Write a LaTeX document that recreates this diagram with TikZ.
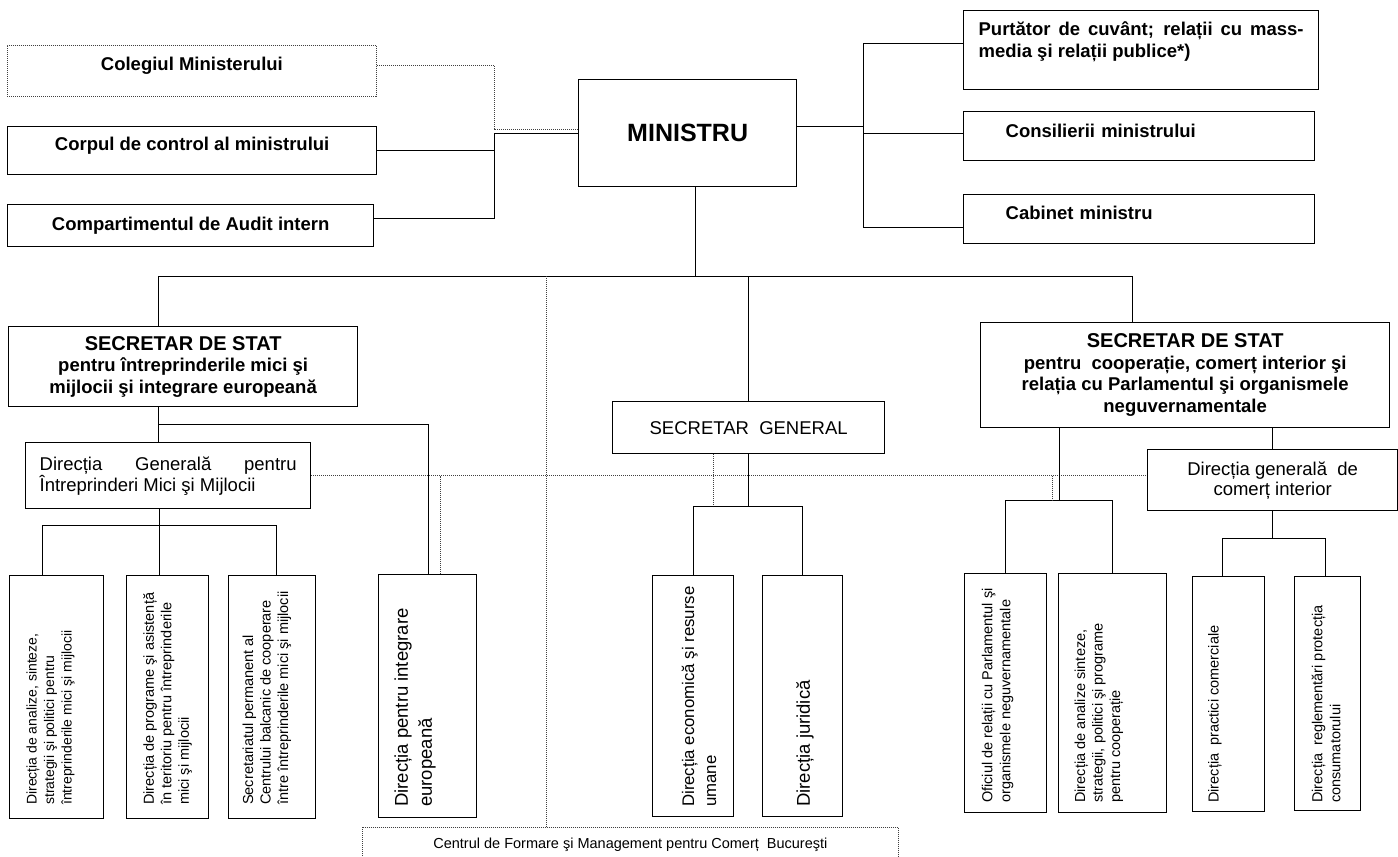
\documentclass[tikz,border=0pt]{standalone}
\usepackage{fontspec}
\setmainfont{Liberation Sans}
\newcommand{\fsz}[2]{\fontsize{#1}{#2}\selectfont}

\begin{document}
\begin{tikzpicture}[x=1pt,y=-1pt,
    box/.style={draw,line width=1.3pt,inner sep=0pt,anchor=north west},
    dotbox/.style={draw=black!75,line width=0.8pt,dash pattern=on 1pt off 1pt,inner sep=0pt,anchor=north west},
    link/.style={line width=1pt},
    dlink/.style={draw=black!75,line width=0.8pt,dash pattern=on 1pt off 1pt},
    vtext/.style={rotate=90,anchor=west,align=left,inner sep=0pt}]
    \useasboundingbox (0,0) rectangle (1398,857);

    \node[dotbox,minimum width=369pt,minimum height=51pt,text depth=15pt,font=\fsz{18.5}{22}\bfseries] (coleg) at (7,45) {Colegiul Ministerului};
    \node[box,minimum width=369pt,minimum height=48pt,text depth=14pt,font=\fsz{18.5}{22}\bfseries] (corp) at (7,126) {Corpul de control al ministrului};
    \node[box,minimum width=366pt,minimum height=42pt,font=\fsz{18.5}{22}\bfseries] (audit) at (7,204) {Compartimentul de Audit intern};
    \node[box,minimum width=218pt,minimum height=107pt,font=\fsz{25}{30}\bfseries] (min) at (578,79) {MINISTRU};
    \node[box,minimum width=355pt,minimum height=79pt,text width=325pt,align=justify,font=\fsz{18.5}{22}\bfseries] (purt) at (963,10) {Purtător de cuvânt; relații cu mass-\linebreak media şi relații publice*)\\\mbox{}};
    \node[box,minimum width=351pt,minimum height=49pt,text width=267pt,align=left,text depth=11pt,font=\fsz{18.5}{22}\bfseries] (cons) at (963,111) {Consilierii ministrului};
    \node[box,minimum width=351pt,minimum height=49pt,text width=267pt,align=left,text depth=13pt,font=\fsz{18.5}{22}\bfseries] (cab) at (963,194) {Cabinet ministru};

    \node[box,minimum width=349pt,minimum height=80pt,align=center,font=\fsz{18.5}{21.5}\bfseries] (ss1) at (8,326) {{\fsz{20}{23}SECRETAR DE STAT}\\pentru întreprinderile mici şi\\mijlocii şi integrare europeană};
    \node[box,minimum width=272pt,minimum height=52pt,font=\fsz{18.5}{22}] (sg) at (612,401) {SECRETAR\ \ GENERAL};
    \node[box,minimum width=409pt,minimum height=105pt,align=center,font=\fsz{18.5}{21.5}\bfseries] (ss2) at (980,322) {{\fsz{20}{23}SECRETAR DE STAT}\\pentru\ \ cooperație, comerț interior şi\\relația cu Parlamentul şi organismele\\neguvernamentale};
    \node[box,minimum width=285pt,minimum height=66pt,text width=257pt,align=justify,font=\fsz{18.5}{21}] (dg1) at (25,442) {Direcția Generală pentru\linebreak Întreprinderi Mici şi Mijlocii};
    \node[box,minimum width=250pt,minimum height=61pt,align=center,font=\fsz{18.5}{20}] (dgci) at (1147,449) {Direcția generală\ \ de\\comerț interior};
    \node[dotbox,minimum width=536pt,minimum height=34pt,font=\fsz{14.5}{17}] (centr) at (362,827) {Centrul de Formare şi Management pentru Comerț\ \ Bucureşti};

    \node[box,minimum width=94pt,minimum height=243pt] (dA) at (9,575) {};
    \node[box,minimum width=82pt,minimum height=243pt] (dB) at (126,575) {};
    \node[box,minimum width=87pt,minimum height=243pt] (dC) at (228,575) {};
    \node[box,minimum width=98pt,minimum height=243pt] (dD) at (378,574) {};
    \node[box,minimum width=81pt,minimum height=241pt] (dE) at (652,575) {};
    \node[box,minimum width=80pt,minimum height=241pt] (dF) at (762,575) {};
    \node[box,minimum width=82pt,minimum height=239pt] (dG) at (964,573) {};
    \node[box,minimum width=108pt,minimum height=239pt] (dH) at (1058,573) {};
    \node[box,minimum width=72pt,minimum height=235pt] (dI) at (1192,576) {};
    \node[box,minimum width=66pt,minimum height=234pt] (dJ) at (1294,576) {};

    \node[vtext,font=\fsz{14}{17.5}] (tA) at (50.5,805) {Direcția de analize, sinteze,\\strategii şi politici pentru\\întreprinderile mici şi mijlocii};
    \node[vtext,font=\fsz{14.5}{17.5}] (tB) at (167.5,805) {Direcția de programe şi asistență\\în teritoriu pentru întreprinderile\\mici şi mijlocii};
    \node[vtext,font=\fsz{14.5}{17.5}] (tC) at (267,805) {Secretariatul permanent al\\Centrului balcanic de cooperare\\între întreprinderile mici şi mijlocii};
    \node[vtext,font=\fsz{18.5}{24}] (tD) at (415,807) {Direcția pentru integrare\\europeană};
    \node[vtext,font=\fsz{16.8}{22}] (tE) at (699,807) {Direcția economică şi resurse\\umane};
    \node[vtext,font=\fsz{18.5}{22}] (tF) at (805,807) {Direcția juridică};
    \node[vtext,font=\fsz{14.5}{18}] (tG) at (997.5,803) {Oficiul de relații cu Parlamentul şi\\organismele neguvernamentale};
    \node[vtext,font=\fsz{14.5}{17.5}] (tH) at (1099,803) {Direcția de analize sinteze,\\strategii, politici şi programe\\pentru cooperație};
    \node[vtext,font=\fsz{14.5}{17.5}] (tI) at (1215,803) {Direcția\ \ practici comerciale};
    \node[vtext,font=\fsz{14.5}{18}] (tJ) at (1326,803) {Direcția\ \ reglementări protecția\\consumatorului};

    \coordinate (lbus) at (494,0);
    \coordinate (rbus) at (863,0);
    \coordinate (tbus) at (0,276);
    \coordinate (bus1) at (0,424);
    \coordinate (bus2) at (0,525);
    \coordinate (bus3) at (0,506);
    \coordinate (bus4) at (0,500);
    \coordinate (bus5) at (0,538);

    \draw[dlink] ([yshift=5.5pt]coleg.east) -| ([yshift=4pt]min.west -| lbus) -- ([yshift=4pt]min.west);
    \draw[link] (corp.east) -- (corp.east -| lbus);
    \draw[link] ([yshift=7pt]audit.east) -| (min.west -| lbus) -- (min.west);

    \draw[link] ([yshift=6.5pt]min.east) -- ([yshift=6.5pt]min.east -| rbus);
    \draw[link] ([yshift=6.5pt]purt.west) -| ([yshift=-8.5pt]cab.west -| rbus) -- ([yshift=-8.5pt]cab.west);
    \draw[link] ([yshift=2.5pt]cons.west) -- ([yshift=2.5pt]cons.west -| rbus);

    \draw[link] ([xshift=8pt]min.south) -- ([xshift=8pt]min.south |- tbus);
    \draw[link] ([xshift=-24.5pt]ss1.north) |- ([xshift=-52.5pt]ss2.north |- tbus) -- ([xshift=-52.5pt]ss2.north);
    \draw[link] (sg.north) -- (sg.north |- tbus);
    \draw[dlink] ([xshift=-84pt]centr.north) -- ([xshift=-84pt]centr.north |- tbus);

    \draw[link] ([xshift=-24.5pt]ss1.south) -- ([xshift=-9.5pt]dg1.north);
    \draw[link] ([xshift=-24.5pt]ss1.south |- bus1) -| ([xshift=1pt]dD.north);
    \draw[link] ([xshift=-8pt]dB.north) -- ([xshift=-8pt]dB.north |- dg1.south);
    \draw[link] ([xshift=-14pt]dA.north) |- ([xshift=4.5pt]dC.north |- bus2) -- ([xshift=4.5pt]dC.north);
    \draw[dlink] (dg1.east) -- (dg1.east -| dgci.west);
    \draw[dlink] ([xshift=13pt]dD.north) -- ([xshift=13pt]dD.north |- dg1.east);

    \draw[link] (sg.south) -- (sg.south |- bus3);
    \draw[link] (dE.north) |- (dF.north |- bus3) -- (dF.north);
    \draw[dlink] ([xshift=-35pt]sg.south) -- ([xshift=-35pt]sg.south |- bus3);

    \draw[link] ([xshift=-125.5pt]ss2.south) -- ([xshift=-125.5pt]ss2.south |- bus4);
    \draw[link] (dG.north) |- (dH.north |- bus4) -- (dH.north);
    \draw[dlink] ([xshift=47pt]dG.north |- dg1.east) -- ([xshift=47pt]dG.north |- bus4);
    \draw[link,line width=1.6pt] (dgci.north) -- (dgci.north |- ss2.south);
    \draw[link] (dgci.south) -- (dgci.south |- bus5);
    \draw[link] ([xshift=-6pt]dI.north) |- ([xshift=-2pt]dJ.north |- bus5) -- ([xshift=-2pt]dJ.north);
\end{tikzpicture}
\end{document}
